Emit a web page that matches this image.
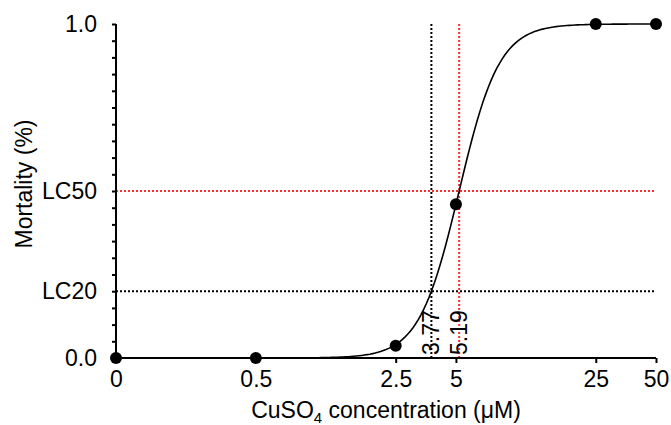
<!DOCTYPE html>
<html>
<head>
<meta charset="utf-8">
<script src="https://cdn.jsdelivr.net/npm/d3@7"></script>
<style>
  body { margin: 0; background: #fff; }
  svg text { font-family: "Liberation Sans", Arial, sans-serif; fill: #000; }
</style>
</head>
<body>
<div id="chart"></div>
<script>
// データ
// x軸の目盛り（0 は対数軸上で 0.1 の位置に描く）
var doseTicks = [0, 0.5, 2.5, 5, 25, 50];
var doseTickLabels = ["0", "0.5", "2.5", "5", "25", "50"];
// 実測点
var pointDose = [0, 0.5, 2.5, 5, 25, 50];
var pointMortality = [0, 0, 0.037, 0.46, 1, 1];
// y軸のラベル
var yTickValues = [0, 0.2, 0.5, 1.0];
var yTickLabels = ["0.0", "LC20", "LC50", "1.0"];
// フィットの結果
var lc20 = 3.77;
var lc50 = 5.19;

var width = 671,
  height = 425;
var padding = { top: 24, right: 15, bottom: 67, left: 116 };
var zeroAt = 0.1;
var fontSize = "23px";

var svg = d3
  .select("#chart")
  .append("svg")
  .attr("width", width)
  .attr("height", height);

var xScale = d3
  .scaleLog()
  .domain([zeroAt, 50])
  .range([padding.left, width - padding.right]);
var yScale = d3
  .scaleLinear()
  .domain([0, 1])
  .range([height - padding.bottom, padding.top]);

var xPos = function (d) {
  return xScale(d === 0 ? zeroAt : d);
};

// 点線（LC20 = 黒, LC50 = 赤）
var guides = [
  { value: lc20, level: 0.2, color: "#000" },
  { value: lc50, level: 0.5, color: "#ff2a2a" },
];
guides.forEach(function (g) {
  svg
    .append("line")
    .attr("x1", xScale.range()[0])
    .attr("x2", xScale.range()[1])
    .attr("y1", yScale(g.level))
    .attr("y2", yScale(g.level))
    .attr("stroke", g.color)
    .attr("stroke-width", 2)
    .attr("stroke-dasharray", "2,2");
  svg
    .append("line")
    .attr("x1", xScale(g.value))
    .attr("x2", xScale(g.value))
    .attr("y1", yScale(1))
    .attr("y2", yScale(0))
    .attr("stroke", g.color)
    .attr("stroke-width", 2)
    .attr("stroke-dasharray", "2,2");
  svg
    .append("text")
    .attr(
      "transform",
      "translate(" + (xScale(g.value) + 8) + "," + (yScale(0) - 3) + ") rotate(-90)"
    )
    .style("font-size", fontSize)
    .text(g.value.toFixed(2));
});

// 用量反応曲線（LC20 と LC50 から傾きを求める）
var hill = Math.log(4) / Math.log(lc50 / lc20);
var fit = function (x) {
  return 1 / (1 + Math.pow(lc50 / x, hill));
};
var curveX = d3.range(0, 201).map(function (i) {
  return zeroAt * Math.pow(50 / zeroAt, i / 200);
});
svg
  .append("path")
  .datum(curveX)
  .attr("fill", "none")
  .attr("stroke", "#000")
  .attr("stroke-width", 1.6)
  .attr(
    "d",
    d3
      .line()
      .x(function (d) { return xScale(d); })
      .y(function (d) { return yScale(fit(d)); })
  );

// X軸
var xAxis = d3
  .axisBottom(xScale)
  .tickValues(doseTicks.map(function (d) { return d === 0 ? zeroAt : d; }))
  .tickSize(5)
  .tickPadding(3)
  .tickFormat(function (d, i) { return doseTickLabels[i]; });
var gX = svg
  .append("g")
  .attr("transform", "translate(0," + yScale(0) + ")")
  .call(xAxis);
gX.select(".domain").attr("stroke-width", 2).attr("d", "M" + xScale.range()[0] + ",0H" + xScale.range()[1]);
gX.selectAll(".tick line").attr("stroke-width", 2);
gX.selectAll(".tick text").style("font-size", fontSize).attr("dy", "0.92em");

// Y軸（0.05 ごとの目盛り）
var yAxis = d3
  .axisLeft(yScale)
  .tickValues(d3.range(0, 21).map(function (i) { return i / 20; }))
  .tickSize(4)
  .tickFormat("");
var gY = svg
  .append("g")
  .attr("transform", "translate(" + padding.left + ",0)")
  .call(yAxis);
gY.select(".domain").attr("stroke-width", 2).attr("d", "M0," + yScale.range()[1] + "V" + yScale.range()[0]);
gY.selectAll(".tick line").attr("stroke-width", 2);

svg
  .selectAll(".ylab")
  .data(yTickValues)
  .enter()
  .append("text")
  .attr("class", "ylab")
  .attr("x", padding.left - 19)
  .attr("y", function (d) { return yScale(d); })
  .attr("dy", "0.35em")
  .attr("text-anchor", "end")
  .style("font-size", fontSize)
  .text(function (d, i) { return yTickLabels[i]; });

// 実測点
svg
  .selectAll(".pt")
  .data(pointDose)
  .enter()
  .append("circle")
  .attr("class", "pt")
  .attr("cx", xPos)
  .attr("cy", function (d, i) { return yScale(pointMortality[i]); })
  .attr("r", 6)
  .attr("fill", "#000");

// 軸タイトル
var xTitle = svg
  .append("text")
  .attr("x", (xScale.range()[0] + xScale.range()[1]) / 2)
  .attr("y", 418)
  .attr("text-anchor", "middle")
  .style("font-size", fontSize);
xTitle.append("tspan").text("CuSO");
xTitle.append("tspan").attr("dy", 5).style("font-size", "15px").text("4");
xTitle.append("tspan").attr("dy", -5).text(" concentration (μM)");

svg
  .append("text")
  .attr("transform", "translate(32," + (yScale(0.5) - 7) + ") rotate(-90)")
  .attr("text-anchor", "middle")
  .style("font-size", fontSize)
  .text("Mortality (%)");
</script>
</body>
</html>
